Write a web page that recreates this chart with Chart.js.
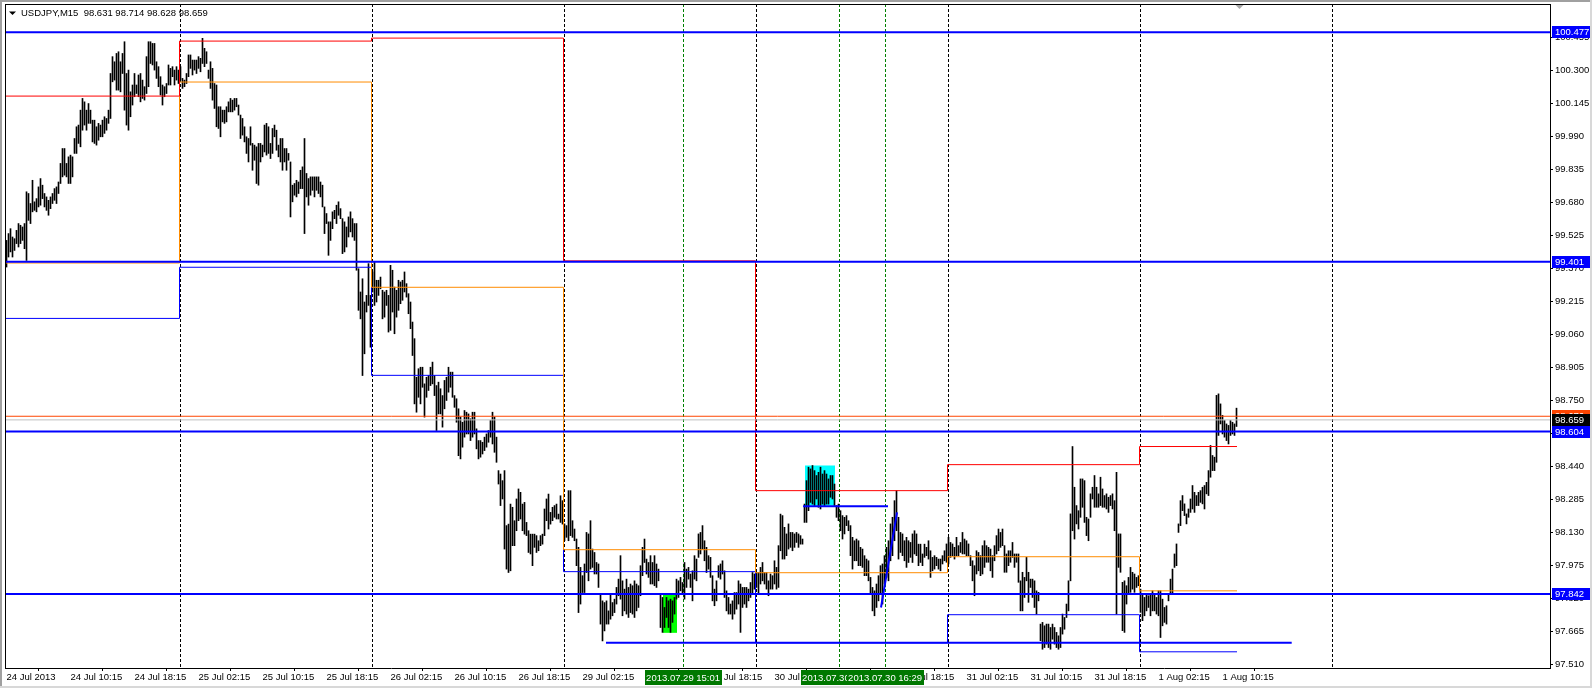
<!DOCTYPE html>
<html>
<head>
<meta charset="utf-8">
<title>USDJPY,M15</title>
<script src="https://cdn.jsdelivr.net/npm/chart.js@4/dist/chart.umd.min.js"></script>
<style>
  html, body { margin: 0; padding: 0; background: #fff; overflow: hidden; }
  canvas { display: block; }
</style>
</head>
<body>
<canvas id="chart" width="1592" height="688"></canvas>
<script>
// M15 bars, index 0 = 24 Jul 02:15 (high / low per bar)
const highs = [
  99.501,99.533,99.556,99.517,99.509,99.548,99.580,99.572,99.564,99.580,
  99.729,99.721,99.674,99.783,99.682,99.697,99.752,99.791,99.760,99.721,
  99.705,99.689,99.705,99.721,99.744,99.752,99.775,99.862,99.932,99.932,
  99.862,99.893,99.901,99.893,99.979,100.034,100.042,100.112,100.167,100.151,
  100.112,100.143,100.112,100.065,100.065,100.034,100.050,100.042,100.065,100.081,
  100.073,100.112,100.284,100.363,100.339,100.378,100.386,100.339,100.378,100.433,
  100.284,100.300,100.198,100.230,100.284,100.230,100.277,100.284,100.253,100.222,
  100.363,100.433,100.433,100.425,100.425,100.339,100.316,100.269,100.230,100.222,
  100.237,100.324,100.308,100.316,100.300,100.316,100.300,
  100.316,100.261,100.253,100.284,100.371,100.371,100.347,100.347,100.347,100.363,
  100.355,100.449,100.402,100.386,100.300,100.339,100.308,100.237,100.230,100.128,
  100.128,100.112,100.112,100.128,100.151,100.167,100.159,100.167,100.167,100.136,
  100.089,100.073,100.034,99.987,99.979,100.034,99.956,99.948,99.940,99.956,
  99.956,99.948,100.042,100.050,100.034,99.956,100.026,100.042,100.018,99.948,
  99.979,99.979,99.932,99.932,99.909,99.869,99.760,99.768,99.783,99.775,
  99.830,99.846,99.979,99.815,99.791,99.799,99.799,99.799,99.799,99.799,
  99.775,99.760,99.658,99.627,99.588,99.588,99.635,99.642,99.666,99.682,
  99.650,99.603,99.588,99.564,99.611,99.635,99.603,99.580,99.580,
  99.368,99.259,99.321,99.212,99.243,99.392,99.243,99.353,99.400,99.314,
  99.314,99.329,99.267,99.259,99.267,99.243,99.384,99.361,99.282,99.267,
  99.314,99.306,99.314,99.353,99.298,99.251,99.212,99.118,99.040,98.859,
  98.899,98.906,98.906,98.828,98.859,98.867,98.906,98.930,98.867,98.820,
  98.836,98.805,98.773,98.844,98.859,98.906,98.883,98.883,98.773,98.758,
  98.711,98.672,98.648,98.703,98.695,98.687,98.664,98.695,98.695,98.617,
  98.562,98.562,98.554,98.578,98.593,98.609,98.656,98.695,98.672,98.578,
  98.421,98.405,98.374,98.421,98.163,98.170,98.264,98.249,98.186,98.288,
  98.335,98.319,98.264,98.272,98.178,98.139,98.123,98.123,98.123,98.116,
  98.092,98.116,98.123,98.241,98.288,98.311,98.225,98.249,98.257,98.264,
  98.217,98.303,98.280,
  98.171,98.163,98.327,98.327,98.186,98.147,98.100,98.061,97.967,97.928,
  97.983,98.131,98.124,98.186,98.053,98.037,97.990,97.983,97.842,97.810,
  97.802,97.810,97.763,97.842,97.802,97.818,97.873,97.912,98.022,97.904,
  97.865,97.912,97.873,97.889,97.881,97.904,97.889,97.881,97.975,98.061,
  98.100,98.006,97.990,98.022,97.990,98.022,97.983,97.959,97.842,97.826,
  97.779,97.826,97.810,97.818,97.810,97.826,97.912,97.904,97.920,97.896,
  97.990,97.959,97.967,97.936,97.951,98.022,98.006,98.124,98.131,98.163,
  98.092,98.061,98.022,98.014,97.928,97.865,97.904,97.975,97.983,97.998,
  97.951,97.857,97.826,97.795,97.810,97.849,97.849,97.904,97.889,97.873,
  97.873,97.873,97.865,97.896,97.943,97.936,97.943,
  97.943,97.967,97.990,97.943,97.943,97.904,97.936,97.928,97.998,97.967,
  98.069,98.217,98.210,98.155,98.124,98.171,98.131,98.131,98.124,98.131,
  98.124,98.116,98.100,98.264,98.374,98.437,98.429,98.445,98.421,98.398,
  98.413,98.437,98.405,98.421,98.405,98.382,98.398,98.398,98.358,98.257,
  98.264,98.233,98.210,98.202,98.210,98.186,98.163,98.108,98.092,98.100,
  98.092,98.061,98.053,98.022,98.006,97.998,97.920,97.873,97.857,97.889,
  97.928,97.975,97.983,98.022,98.061,98.092,98.171,98.202,98.280,98.327,
  98.202,98.131,98.124,98.092,98.108,98.092,98.084,98.124,98.139,98.124,
  98.076,98.076,98.030,98.076,98.061,98.092,98.045,98.014,98.022,98.014,
  98.006,98.006,
  98.022,98.045,98.077,
  98.108,98.084,98.077,98.061,98.108,98.069,98.084,98.131,98.100,98.092,
  98.077,98.022,97.998,97.975,98.045,98.037,98.022,98.069,98.092,98.069,
  98.061,98.053,98.022,98.069,98.116,98.147,98.131,98.147,98.069,98.030,
  98.045,98.045,98.084,98.030,98.030,98.030,97.904,97.944,97.920,98.014,
  97.944,97.912,97.912,97.904,97.857,97.850,97.701,97.709,97.693,97.701,
  97.701,97.685,97.701,97.685,97.662,97.646,97.685,97.748,97.732,97.795,
  97.904,98.218,98.534,98.343,98.257,98.233,98.382,98.382,98.374,98.202,
  98.194,98.312,98.343,98.398,98.343,98.312,98.390,98.335,98.304,98.312,
  98.296,98.304,98.312,98.280,98.413,98.124,98.124,97.897,97.904,97.881,
  97.920,97.967,97.944,97.936,97.920,97.928,
  97.865,97.842,97.826,97.842,97.834,97.842,97.857,97.842,97.826,97.857,
  97.857,97.818,97.779,97.787,97.842,97.912,97.959,98.030,98.077,98.171,
  98.280,98.304,98.265,98.218,98.241,98.288,98.351,98.319,98.304,98.319,
  98.327,98.343,98.351,98.366,98.421,98.539,98.492,98.484,98.774,98.781,
  98.734,98.680,98.656,98.640,98.633,98.656,98.648,98.640,98.714
];
const lows = [
  99.376,99.423,99.447,99.423,99.454,99.486,99.470,99.486,99.501,99.462,
  99.407,99.595,99.580,99.635,99.642,99.635,99.658,99.666,99.697,99.658,
  99.642,99.619,99.650,99.674,99.689,99.674,99.721,99.768,99.799,99.807,
  99.799,99.768,99.768,99.799,99.909,99.909,99.956,99.940,100.018,100.042,
  100.018,100.050,100.050,99.963,99.956,99.948,99.971,99.987,99.987,100.003,
  100.018,100.050,100.073,100.245,100.253,100.206,100.206,100.198,100.284,100.112,
  100.042,100.018,100.081,100.136,100.175,100.190,100.175,100.151,100.167,100.159,
  100.190,100.222,100.331,100.324,100.300,100.261,100.222,100.183,100.136,100.175,
  100.190,100.230,100.230,100.269,100.230,100.253,100.237,
  100.253,100.214,100.222,100.237,100.269,100.308,100.277,100.300,100.284,100.308,
  100.292,100.331,100.316,100.331,100.261,100.214,100.159,100.120,100.034,100.026,
  99.987,100.057,100.050,100.057,100.104,100.104,100.104,100.112,100.128,100.089,
  99.979,99.995,99.963,99.909,99.869,99.948,99.830,99.877,99.768,99.760,
  99.869,99.893,99.916,99.901,99.909,99.885,99.909,99.987,99.924,99.893,
  99.869,99.830,99.869,99.830,99.877,99.611,99.682,99.713,99.705,99.721,
  99.744,99.744,99.533,99.705,99.666,99.713,99.736,99.705,99.736,99.721,
  99.705,99.658,99.533,99.580,99.431,99.501,99.556,99.603,99.580,99.619,
  99.603,99.439,99.447,99.470,99.517,99.541,99.517,99.501,99.361,
  99.173,99.133,98.867,98.969,99.165,99.196,99.000,99.259,99.196,99.212,
  99.243,99.274,99.133,99.141,99.196,99.071,99.079,99.165,99.063,99.141,
  99.173,99.204,99.220,99.259,99.235,99.157,99.087,98.961,98.734,98.695,
  98.765,98.734,98.812,98.672,98.765,98.797,98.820,98.828,98.773,98.609,
  98.687,98.687,98.625,98.711,98.750,98.789,98.812,98.765,98.718,98.648,
  98.491,98.476,98.531,98.578,98.593,98.593,98.562,98.578,98.593,98.523,
  98.476,98.484,98.499,98.515,98.531,98.554,98.578,98.546,98.507,98.460,
  98.358,98.257,98.288,98.053,97.959,97.943,97.951,98.069,98.069,98.139,
  98.186,98.194,98.139,98.123,98.116,98.037,98.030,97.975,98.061,98.037,
  98.045,98.069,98.076,98.116,98.186,98.147,98.170,98.186,98.202,98.194,
  98.194,98.178,98.170,
  98.092,98.108,98.092,98.116,98.108,98.092,97.975,97.755,97.795,97.849,
  97.849,97.943,97.904,97.959,97.967,97.936,97.936,97.873,97.701,97.622,
  97.669,97.701,97.701,97.724,97.740,97.755,97.795,97.834,97.818,97.740,
  97.763,97.748,97.732,97.755,97.748,97.732,97.763,97.779,97.834,97.928,
  97.990,97.936,97.920,97.889,97.889,97.881,97.873,97.904,97.685,97.662,
  97.685,97.732,97.685,97.662,97.709,97.748,97.818,97.826,97.857,97.842,
  97.818,97.873,97.912,97.873,97.810,97.912,97.904,98.014,98.030,98.053,
  97.998,97.943,97.959,97.920,97.810,97.787,97.810,97.920,97.912,97.936,
  97.826,97.763,97.748,97.748,97.724,97.748,97.771,97.795,97.662,97.779,
  97.795,97.779,97.810,97.826,97.842,97.865,97.873,
  97.842,97.889,97.904,97.889,97.865,97.834,97.865,97.865,97.889,97.865,
  97.873,98.045,98.006,98.006,98.022,98.053,98.061,98.045,98.061,98.084,
  98.061,98.076,98.076,98.178,98.178,98.233,98.272,98.264,98.257,98.288,
  98.249,98.241,98.264,98.257,98.264,98.264,98.296,98.288,98.257,98.202,
  98.186,98.139,98.100,98.124,98.163,98.139,98.022,97.959,97.998,97.998,
  97.975,97.975,97.967,97.928,97.928,97.904,97.842,97.763,97.740,97.779,
  97.810,97.842,97.795,97.889,97.920,97.904,97.998,98.022,98.092,98.139,
  98.006,98.037,98.022,97.998,97.967,97.990,98.014,97.990,98.030,98.022,
  97.975,97.990,97.975,98.014,98.022,98.006,97.920,97.951,97.959,97.975,
  97.959,97.951,
  97.983,97.998,97.991,
  97.983,98.014,98.022,98.006,98.022,98.022,98.037,98.030,98.030,98.022,
  98.022,97.975,97.904,97.834,97.936,97.951,97.928,97.936,97.967,97.991,
  97.991,97.951,97.920,97.998,98.030,98.045,98.061,98.069,97.944,97.944,
  97.975,97.991,98.014,97.967,97.991,97.897,97.763,97.763,97.826,97.904,
  97.803,97.873,97.826,97.779,97.748,97.810,97.623,97.583,97.591,97.607,
  97.591,97.583,97.630,97.607,97.591,97.583,97.591,97.654,97.677,97.732,
  97.763,97.904,98.139,98.100,98.171,98.147,98.202,98.249,98.178,98.116,
  98.092,98.202,98.288,98.249,98.249,98.249,98.257,98.249,98.249,98.241,
  98.225,98.257,98.241,98.139,97.748,97.967,97.944,97.670,97.662,97.795,
  97.842,97.850,97.865,97.850,97.873,97.881,
  97.756,97.717,97.740,97.763,97.779,97.740,97.763,97.763,97.748,97.740,
  97.638,97.693,97.709,97.701,97.810,97.842,97.842,97.967,97.975,98.131,
  98.163,98.233,98.210,98.171,98.202,98.225,98.241,98.225,98.257,98.257,
  98.272,98.265,98.241,98.312,98.304,98.390,98.421,98.421,98.460,98.586,
  98.640,98.593,98.578,98.562,98.546,98.586,98.593,98.586,98.628
];

// time axis labels (one every 32 bars)
const xTickBars = [0, 32, 64, 96, 128, 160, 192, 224, 256, 288, 320, 352, 384, 416, 448, 480, 512, 544, 576, 608];
const xTickLabels = [
  '24 Jul 2013', '24 Jul 10:15', '24 Jul 18:15', '25 Jul 02:15', '25 Jul 10:15', '25 Jul 18:15',
  '26 Jul 02:15', '26 Jul 10:15', '26 Jul 18:15', '29 Jul 02:15', '29 Jul 10:15', '29 Jul 18:15',
  '30 Jul 02:15', '30 Jul 10:15', '30 Jul 18:15', '31 Jul 02:15', '31 Jul 10:15', '31 Jul 18:15',
  '1 Aug 02:15', '1 Aug 10:15'
];
const priceTicks = [97.510, 97.665, 97.820, 97.975, 98.130, 98.285, 98.440, 98.595, 98.750, 98.905,
  99.060, 99.215, 99.370, 99.525, 99.680, 99.835, 99.990, 100.145, 100.300, 100.455];

// day separators (bar position) and previous-day levels for each day segment
const dayStarts = [86.5, 182.5, 278.5, 374.5, 470.5, 566.5, 662.5];
const segStarts = [-0.75, 86.5, 182.5, 278.5, 374.5, 470.5, 566.5];
const segEnd = 615.25;
const prevHigh = [100.178, 100.436, 100.450, 99.405, 98.327, 98.449, 98.534];
const prevClose = [99.395, 100.244, 99.281, 98.050, 97.942, 98.017, 97.857];
const prevLow = [99.135, 99.375, 98.868, 97.947, 97.613, 97.745, 97.571];

// horizontal levels
const levelPrices = [100.477, 99.401, 98.604, 97.842];
const askPrice = 98.676;
const bidPrice = 98.659;
const supportLine = { from: 299.75, to: 642.6, price: 97.614 };
const boxLine = { from: 398.3, to: 440.75, price: 98.254 };
const trendLine = { from: 437.25, to: 445.25, p1: 97.779, p2: 98.225 };
const cyanZone = { from: 399.25, to: 414.25, hi: 98.445, lo: 98.257 };
const greenZone = { from: 328.25, to: 335.25, hi: 97.839, lo: 97.660 };

// vertical time markers
const markerBars = [338.3, 416.3, 439.3];
const markerLabels = ['2013.07.29 15:01', '2013.07.30 10:24', '2013.07.30 16:29'];

const headerText = 'USDJPY,M15  98.631 98.714 98.628 98.659';
const shiftMark = 616.25;

const FONT = "'Liberation Sans', Arial, sans-serif";
const FSIZE = 9.5;
Chart.defaults.font.family = FONT;
Chart.defaults.font.size = FSIZE;
Chart.defaults.color = '#000';

const bars = highs.map((h, i) => ({ x: i, y: [lows[i], h] }));
const stepData = vals => segStarts.map((s, i) => ({ x: s, y: vals[i] }))
  .concat([{ x: segEnd, y: vals[vals.length - 1] }]);
const flat = (v, a, b) => [{ x: a, y: v }, { x: b, y: v }];
const X_MIN = -0.75, X_MAX = 771.75;

function lineSet(data, color, width, order, stepped) {
  return { type: 'line', data, borderColor: color, borderWidth: width, pointRadius: 0,
    fill: false, tension: 0, stepped: stepped || false, order };
}

const datasets = [];
levelPrices.forEach(v => datasets.push(lineSet(flat(v, X_MIN, X_MAX), '#0000ff', 2, 1)));
datasets.push(lineSet(flat(askPrice, X_MIN, X_MAX), '#ff4500', 1, 2));
datasets.push(lineSet(flat(bidPrice, X_MIN, X_MAX), '#c0c0c0', 1, 2));
datasets.push(lineSet(flat(supportLine.price, supportLine.from, supportLine.to), '#0000ff', 2, 1));
datasets.push(lineSet(flat(boxLine.price, boxLine.from, boxLine.to), '#0000ff', 2, 1));
datasets.push(lineSet([{ x: trendLine.from, y: trendLine.p1 }, { x: trendLine.to, y: trendLine.p2 }], '#0000ff', 2, 1));
// horizontal first, then the jump at the day boundary
datasets.push(lineSet(stepData(prevHigh), '#ff0000', 1, 3, 'before'));
datasets.push(lineSet(stepData(prevClose), '#ff8c00', 1, 3, 'before'));
datasets.push(lineSet(stepData(prevLow), '#0000ff', 1, 3, 'before'));
datasets.push({ type: 'bar', data: bars, backgroundColor: '#000', borderWidth: 0,
  barThickness: 1, grouped: false, order: 10 });

const overlay = {
  id: 'overlay',
  beforeDatasetsDraw(chart) {
    const { ctx, chartArea: a, scales: { x, y } } = chart;
    ctx.save();
    [[cyanZone, '#00ffff'], [greenZone, '#00ff00']].forEach(([z, c]) => {
      const x1 = x.getPixelForValue(z.from), x2 = x.getPixelForValue(z.to);
      const y1 = y.getPixelForValue(z.hi), y2 = y.getPixelForValue(z.lo);
      ctx.fillStyle = c;
      ctx.fillRect(x1, y1, x2 - x1, y2 - y1);
    });
    ctx.lineWidth = 1;
    ctx.setLineDash([3, 2]);
    const vline = (v, color) => {
      const px = Math.round(x.getPixelForValue(v)) + 0.5;
      ctx.strokeStyle = color;
      ctx.beginPath();
      ctx.moveTo(px, a.top);
      ctx.lineTo(px, a.bottom);
      ctx.stroke();
    };
    dayStarts.forEach(v => vline(v, '#000'));
    markerBars.forEach(v => vline(v, '#008000'));
    ctx.restore();
  },
  afterDraw(chart) {
    const { ctx, chartArea: a, scales: { x, y } } = chart;
    const W = chart.width, H = chart.height;
    ctx.save();
    ctx.font = FSIZE + 'px ' + FONT;
    ctx.textBaseline = 'middle';

    // price tags on the right axis
    const tags = [
      [levelPrices[0], '#0000ff'], [levelPrices[1], '#0000ff'],
      [askPrice, '#ff4500'], [bidPrice, '#000000'],
      [levelPrices[2], '#0000ff'], [levelPrices[3], '#0000ff']
    ];
    tags.forEach(([v, bg]) => {
      const py = Math.round(y.getPixelForValue(v));
      ctx.fillStyle = bg;
      ctx.fillRect(a.right + 2, py - 6, W - a.right - 2, 12);
      ctx.fillStyle = '#fff';
      ctx.textAlign = 'left';
      ctx.fillText(v.toFixed(3), a.right + 5, py + 0.5);
    });

    // time marker labels under the axis
    markerBars.forEach((v, i) => {
      const px = x.getPixelForValue(v);
      const w = 77;
      ctx.fillStyle = '#007800';
      ctx.fillRect(Math.round(px - w / 2), a.bottom + 2, w, 15);
      ctx.fillStyle = '#fff';
      ctx.textAlign = 'center';
      ctx.fillText(markerLabels[i], px, a.bottom + 10);
    });

    // chart frame
    ctx.fillStyle = '#000';
    ctx.fillRect(a.left, a.top, a.right - a.left, 1);
    ctx.fillRect(a.left, a.top, 1, a.bottom - a.top);

    // window border
    ctx.fillStyle = '#a0a0a0';
    ctx.fillRect(0, 0, W, 2);
    ctx.fillRect(0, 0, 2, H);
    ctx.fillStyle = '#d8d8d8';
    ctx.fillRect(W - 2, 0, 2, H);
    ctx.fillRect(0, H - 2, W, 2);

    // header
    ctx.fillStyle = '#000';
    ctx.beginPath();
    ctx.moveTo(9, 11.5); ctx.lineTo(16, 11.5); ctx.lineTo(12.5, 15);
    ctx.closePath();
    ctx.fill();
    ctx.textAlign = 'left';
    ctx.fillText(headerText, 21, 13.5);

    // chart shift marker
    const sx = Math.round(x.getPixelForValue(shiftMark)) + 0.5;
    ctx.fillStyle = '#a8a8a8';
    ctx.beginPath();
    ctx.moveTo(sx - 4, 5); ctx.lineTo(sx + 4, 5); ctx.lineTo(sx, 9);
    ctx.closePath();
    ctx.fill();
    ctx.restore();
  }
};

new Chart(document.getElementById('chart'), {
  type: 'line',
  data: { datasets },
  options: {
    responsive: false,
    devicePixelRatio: 1,
    animation: false,
    events: [],
    layout: { padding: { left: 5, top: 4, right: 0, bottom: 0 } },
    plugins: { legend: { display: false }, tooltip: { enabled: false } },
    scales: {
      x: {
        type: 'linear', min: X_MIN, max: X_MAX, offset: false,
        afterBuildTicks: s => { s.ticks = xTickBars.map(v => ({ value: v })); },
        afterFit: s => { s.height = 20; s.paddingLeft = 0; s.paddingRight = 0; },
        grid: { drawOnChartArea: false, drawTicks: true, tickLength: 3, color: '#000' },
        border: { display: true, color: '#000' },
        ticks: { autoSkip: false, maxRotation: 0, minRotation: 0, align: 'start', padding: 1,
          color: '#000', callback: (v, i) => xTickLabels[i] }
      },
      y: {
        type: 'linear', position: 'right', min: 97.495, max: 100.610, beginAtZero: false,
        afterBuildTicks: s => { s.ticks = priceTicks.map(v => ({ value: v })); },
        afterFit: s => { s.width = 42; s.paddingTop = 0; s.paddingBottom = 0; },
        grid: { drawOnChartArea: false, drawTicks: true, tickLength: 3, color: '#000' },
        border: { display: true, color: '#000' },
        ticks: { padding: 2, color: '#000', callback: v => Number(v).toFixed(3) }
      }
    }
  },
  plugins: [overlay]
});
</script>
</body>
</html>
